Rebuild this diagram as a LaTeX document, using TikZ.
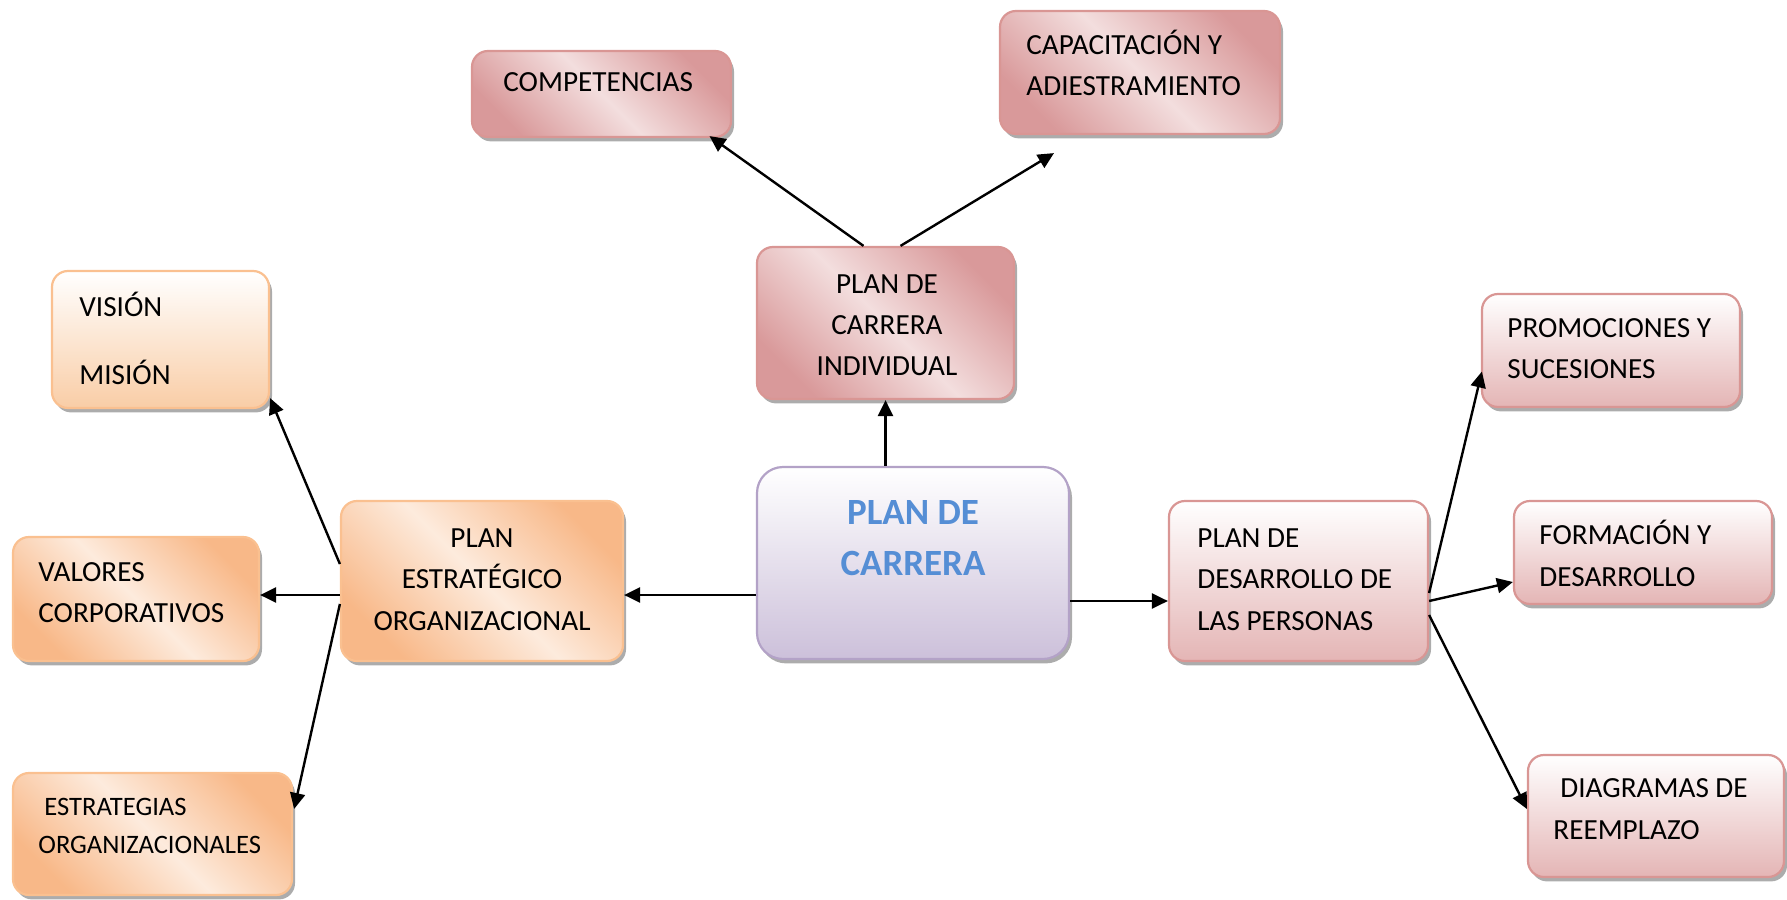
\documentclass[tikz,border=0pt]{standalone}
\usepackage{fontspec}
\setmainfont{Carlito}
\usetikzlibrary{shadows,arrows.meta,calc}
\definecolor{orBd}{HTML}{FAC090}
\definecolor{orDk}{HTML}{F8B888}
\definecolor{orLt}{HTML}{FDEBDD}
\definecolor{orBt}{HTML}{F9CDA6}
\definecolor{pkBd}{HTML}{D99694}
\definecolor{pkDk}{HTML}{D9999A}
\definecolor{pkLt}{HTML}{F3DEDE}
\definecolor{pkBt}{HTML}{E4B5B5}
\definecolor{lvBd}{HTML}{B3A2C7}
\definecolor{lvBt}{HTML}{CCC0DA}
\definecolor{bluT}{HTML}{558ED5}
\begin{document}
\begin{tikzpicture}[x=0.5pt,y=-0.5pt,
  box/.style={rounded corners=8pt, line width=1.1pt, inner sep=0pt,
    drop shadow={shadow xshift=1.5pt, shadow yshift=-2.2pt, fill=black!50, opacity=0.65}},
  orDiag/.style={box, draw=orBd, top color=orDk, bottom color=orDk, middle color=orLt, shading angle=-45},
  orVert/.style={box, draw=orBd, top color=white, bottom color=orBt},
  pkDiag/.style={box, draw=pkBd, top color=pkDk, bottom color=pkDk, middle color=pkLt, shading angle=-45},
  pkVert/.style={box, draw=pkBd, top color=white, bottom color=pkBt},
  lvVert/.style={box, rounded corners=13pt, draw=lvBd, top color=white, bottom color=lvBt},
  txt/.style={inner sep=0pt, font=\fontsize{14.6}{17}\selectfont, text=black},
  txts/.style={inner sep=0pt, font=\fontsize{13.3}{16}\selectfont, text=black},
  txtb/.style={inner sep=0pt, font=\bfseries\fontsize{18.5}{22}\selectfont, text=bluT},
  arr/.style={-{Triangle[length=8pt,width=7.5pt]}, line width=1.2pt}
]
\useasboundingbox (0,0) rectangle (1787,899);

% boxes
\node[pkDiag, minimum width=129.5pt, minimum height=43pt] (comp) at (601.5,94) {};
\node[pkDiag, minimum width=140pt, minimum height=61.5pt] (capa) at (1140,72.5) {};
\node[pkDiag, minimum width=128.5pt, minimum height=76pt] (pci) at (885.5,323) {};
\node[orVert, minimum width=108.5pt, minimum height=68.5pt] (vis) at (160.5,339.5) {};
\node[orDiag, minimum width=123pt, minimum height=62pt] (val) at (136,599) {};
\node[orDiag, minimum width=139.5pt, minimum height=61pt] (est) at (152.5,834) {};
\node[orDiag, minimum width=141pt, minimum height=80pt] (peo) at (482,581) {};
\node[lvVert, minimum width=156pt, minimum height=96pt] (pc) at (913,563) {};
\node[pkVert, minimum width=129.5pt, minimum height=80pt] (pdp) at (1298.5,581) {};
\node[pkVert, minimum width=129pt, minimum height=56.5pt] (pro) at (1611,350.5) {};
\node[pkVert, minimum width=129pt, minimum height=51.5pt] (for) at (1643,552.5) {};
\node[pkVert, minimum width=128pt, minimum height=61pt] (dia) at (1656,816) {};

% texts
\node[txt, anchor=base west] (comp1) at (503,92) {COMPETENCIAS};
\node[txt, anchor=base west] (capa1) at (1026,55) {CAPACITACIÓN Y};
\node[txt, anchor=base west] (capa2) at (1026,96) {ADIESTRAMIENTO};
\node[txt, anchor=base] (pci1) at (887,293) {PLAN DE};
\node[txt, anchor=base] (pci2) at (887,334) {CARRERA};
\node[txt, anchor=base] (pci3) at (887,375) {INDIVIDUAL};
\node[txt, anchor=base west] (vis1) at (79,316) {VISIÓN};
\node[txt, anchor=base west] (vis2) at (79,384) {MISIÓN};
\node[txt, anchor=base west] (val1) at (38,581) {VALORES};
\node[txt, anchor=base west] (val2) at (38,622) {CORPORATIVOS};
\node[txts, anchor=base west] (est1) at (44,815) {ESTRATEGIAS};
\node[txts, anchor=base west] (est2) at (38,853) {ORGANIZACIONALES};
\node[txt, anchor=base] (peo1) at (482,547) {PLAN};
\node[txt, anchor=base] (peo2) at (482,588) {ESTRATÉGICO};
\node[txt, anchor=base] (peo3) at (482,630) {ORGANIZACIONAL};
\node[txtb, anchor=base] (pc1) at (913,524) {PLAN DE};
\node[txtb, anchor=base] (pc2) at (913,575) {CARRERA};
\node[txt, anchor=base west] (pdp1) at (1197,547) {PLAN DE};
\node[txt, anchor=base west] (pdp2) at (1197,588) {DESARROLLO DE};
\node[txt, anchor=base west] (pdp3) at (1197,630) {LAS PERSONAS};
\node[txt, anchor=base west] (pro1) at (1507,337) {PROMOCIONES Y};
\node[txt, anchor=base west] (pro2) at (1507,378) {SUCESIONES};
\node[txt, anchor=base west] (for1) at (1539,544) {FORMACIÓN Y};
\node[txt, anchor=base west] (for2) at (1539,586) {DESARROLLO};
\node[txt, anchor=base west] (dia1) at (1560,797) {DIAGRAMAS DE};
\node[txt, anchor=base west] (dia2) at (1553,839) {REEMPLAZO};

% connectors
\draw[arr] (pci.south |- pc.north) -- (pci.south);
\draw[arr] ($(pc.west)+(0,32)$) -- ($(peo.east)+(0,14)$);
\draw[arr] ($(pc.east)+(0,38)$) -- ($(pdp.west)+(0,20)$);
\draw[arr] ($(pci.north)+(-22,0)$) -- ($(comp.south)+(108,-2)$);
\draw[arr] ($(pci.north)+(15,0)$) -- ($(capa.south)+(-86,18)$);
\draw[arr] ($(peo.west)+(0,-17)$) -- ($(vis.south east)+(0,-11)$);
\draw[arr] ($(peo.west)+(0,14)$) -- ($(val.east)+(0,-4)$);
\draw[arr] ($(peo.west)+(0,23)$) -- ($(est.east)+(1,-25)$);
\draw[arr] ($(pdp.east)+(0,12)$) -- ($(pro.west)+(1,21)$);
\draw[arr] ($(pdp.east)+(0,20)$) -- ($(for.west)+(0,29.5)$);
\draw[arr] ($(pdp.east)+(0,34)$) -- ($(dia.west)+(0,-7)$);
\end{tikzpicture}
\end{document}
